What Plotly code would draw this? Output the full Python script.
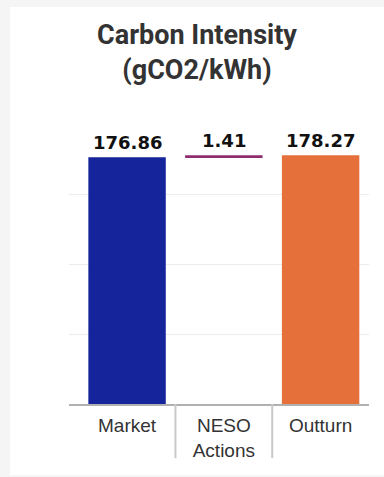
import plotly.graph_objects as go

# Carbon intensity breakdown (gCO2/kWh)
categories = ["Market", "NESO<br>Actions", "Outturn"]
market_value = 176.86
neso_delta = 1.41
outturn_value = 178.27

bar_colors = ["#15249a", "#8e2c6f", "#e5703a"]
value_labels = ["176.86", "1.41", "178.27"]

bases = [0, market_value, 0]
heights = [market_value, neso_delta, outturn_value]
tops = [b + h for b, h in zip(bases, heights)]

fig = go.Figure()
fig.add_trace(go.Bar(
    x=categories,
    y=heights,
    base=bases,
    width=0.8,
    marker=dict(color=bar_colors, line=dict(width=0)),
    hoverinfo="skip",
    showlegend=False,
))

# value labels above each bar
for cat, top, lab in zip(categories, tops, value_labels):
    fig.add_annotation(
        x=cat, y=top, xref="x", yref="y",
        text=f"<b>{lab}</b>", showarrow=False,
        yanchor="bottom", yshift=2,
        font=dict(family="DejaVu Sans", size=18, color="#111111"),
    )

page_grey = "#f5f5f5"
shapes = [
    # grey page strips around the white card (left, top, bottom)
    dict(type="rect", xref="paper", yref="paper",
         x0=-0.4, x1=-0.197, y0=-0.5, y1=1.6,
         fillcolor=page_grey, line=dict(width=0), layer="below"),
    dict(type="rect", xref="paper", yref="paper",
         x0=-0.4, x1=1.2, y0=1.423, y1=1.6,
         fillcolor=page_grey, line=dict(width=0), layer="below"),
    dict(type="rect", xref="paper", yref="paper",
         x0=-0.4, x1=1.2, y0=-0.5, y1=-0.255,
         fillcolor=page_grey, line=dict(width=0), layer="below"),
]
# category divider ticks
for xb in [0.5, 1.5]:
    shapes.append(dict(type="line", xref="x", yref="paper",
                       x0=xb, x1=xb, y0=0, y1=-0.194,
                       line=dict(color="#c8c8c8", width=2)))

fig.update_layout(
    width=384, height=477,
    margin=dict(l=69, r=15, t=125, b=73),
    paper_bgcolor="white",
    plot_bgcolor="white",
    shapes=shapes,
    title=dict(
        text="<b>Carbon Intensity<br>(gCO2/kWh)</b>",
        x=0.513, xanchor="center", xref="container",
        y=0.908, yanchor="middle", yref="container",
        font=dict(family="Roboto", size=27, color="#333333"),
    ),
    xaxis=dict(
        type="category",
        range=[-0.6, 2.5],
        showline=True, linecolor="#b0b0b0", linewidth=2,
        ticks="", showgrid=False,
        ticklabelstandoff=3,
        tickfont=dict(family="Liberation Sans", size=19, color="#333333"),
        fixedrange=True,
    ),
    yaxis=dict(
        range=[0, 200], dtick=50,
        showticklabels=False, ticks="",
        showgrid=True, gridcolor="#ececec", gridwidth=1,
        zeroline=False, showline=False,
        fixedrange=True,
    ),
)

# page styling: no body margin, no scrollbars
page_js = (
    "var s=document.createElement('style');"
    "s.textContent='html,body{margin:0;padding:0;overflow:hidden;background:#ffffff;}';"
    "document.head.appendChild(s);"
)

fig.write_html("out.html", config={"displayModeBar": False}, post_script=page_js)
